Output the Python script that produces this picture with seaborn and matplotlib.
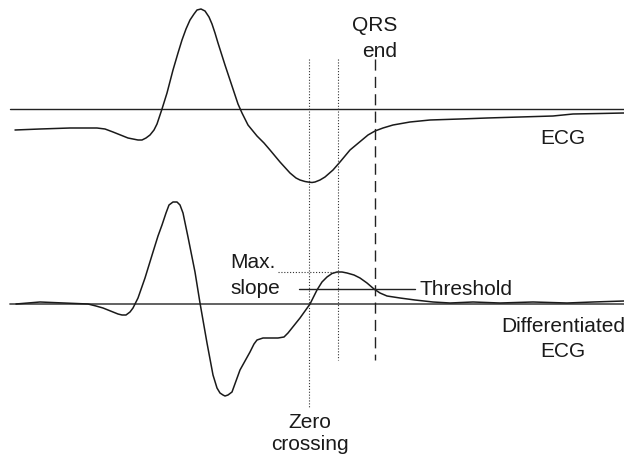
import numpy as np
import pandas as pd
import seaborn as sns
import matplotlib
matplotlib.use("Agg")
import matplotlib.pyplot as plt

# ECG trace: time (sample) and amplitude relative to its baseline
ecg_t = [15, 40, 70, 97, 105, 113, 123, 128, 133, 138, 142, 146, 150, 154, 157,
         162, 167, 173, 178, 182, 186, 190, 194, 197, 201, 205, 209, 212, 215,
         218, 225, 232, 238, 242, 248, 257, 264, 270, 280, 290, 296, 300, 305,
         308, 312, 315, 320, 325, 333, 340, 350, 362, 368, 375, 383, 393, 410,
         430, 460, 487, 520, 553, 573, 600, 624]
ecg_v = [-21, -20, -19, -19, -20, -23, -27, -29, -30, -31, -31, -29, -26, -21, -15,
         0, 16, 39, 56, 69, 80, 89, 95, 99, 100, 98, 92, 85, 76,
         66, 44, 23, 5, -4, -16, -27, -34, -41, -53, -64, -69, -71, -72.5,
         -73, -73.5, -73, -71, -68, -61, -53, -41, -31, -26, -22, -19, -16, -13,
         -11, -10, -9, -8, -7, -5, -4.5, -4]

# differentiated ECG
diff_t = [16, 40, 88, 96, 103, 113, 118, 122, 126, 130, 133, 138, 145, 153, 158,
          162, 166, 169, 173, 177, 180, 183, 188, 195, 200, 207, 213, 217, 220,
          223, 225, 228, 232, 240, 250, 254, 257, 263, 270, 278, 284, 288, 292,
          300, 310, 317, 322, 327, 332, 337, 342, 347, 354, 360, 367, 374, 380,
          387, 400, 415, 433, 450, 473, 500, 533, 567, 593, 624]
diff_v = [0, 2, 0, -2, -4, -8, -10, -11, -11, -8, -4, 6, 26, 52, 68,
          79, 91, 99, 102, 102, 99, 91, 67, 32, 1, -39, -71, -84, -89,
          -91, -92, -91, -88, -66, -48, -40, -36, -34, -34, -34, -33, -29, -24,
          -14, 0, 14, 22, 27, 30.5, 32, 32, 31, 29, 26, 21, 15, 11,
          8, 6, 4, 2, 1, 2, 1, 2, 1, 2, 3]

# markers
zero_cross_t = 309
max_slope_t = 338
qrs_end_t = 375
max_slope_v = 32
threshold_v = 15

ECG_BASE = 348   # vertical placement of the two traces
DIFF_BASE = 153

sns.set_theme(style="white")
plt.rcParams["font.family"] = ["Liberation Sans", "DejaVu Sans"]

fig = plt.figure(figsize=(6.24, 4.57), dpi=100)
ax = fig.add_axes([0, 0, 1, 1])
ax.set_xlim(0, 624)
ax.set_ylim(0, 457)
ax.axis("off")

ecg = pd.DataFrame({"t": ecg_t, "v": np.array(ecg_v) + ECG_BASE})
dif = pd.DataFrame({"t": diff_t, "v": np.array(diff_v) + DIFF_BASE})

# baselines
ax.plot([10, 624], [ECG_BASE, ECG_BASE], color="#222222", lw=1.0)
ax.plot([10, 624], [DIFF_BASE, DIFF_BASE], color="#555555", lw=1.3)

line_kw = dict(color="#1a1a1a", lw=1.1, errorbar=None,
               solid_joinstyle="round", solid_capstyle="round")
sns.lineplot(data=ecg, x="t", y="v", ax=ax, **line_kw)
sns.lineplot(data=dif, x="t", y="v", ax=ax, **line_kw)

# vertical markers
dot = (0, (1, 1.6))
ax.plot([zero_cross_t, zero_cross_t], [398, 50], color="#333333", lw=0.8, ls=dot)
ax.plot([max_slope_t, max_slope_t], [398, 97], color="#333333", lw=0.8, ls=dot)
ax.plot([qrs_end_t, qrs_end_t], [398, 97], color="#222222", lw=1.0, ls=(0, (8, 4.5)))

# horizontal markers
ax.plot([278, max_slope_t], [DIFF_BASE + max_slope_v] * 2, color="#333333", lw=0.8, ls=dot)
ax.plot([299, 415], [DIFF_BASE + threshold_v] * 2, color="#222222", lw=1.0)

fs = 15
kw = dict(fontsize=fs, color="#1a1a1a", va="baseline")
ax.text(397, 426, "QRS", ha="right", **kw)
ax.text(397, 400, "end", ha="right", **kw)
ax.text(540, 313, "ECG", ha="left", **kw)
ax.text(230, 189, "Max.", ha="left", **kw)
ax.text(230, 163, "slope", ha="left", **kw)
ax.text(420, 162, "Threshold", ha="left", **kw)
ax.text(563, 125, "Differentiated", ha="center", **kw)
ax.text(563, 100, "ECG", ha="center", **kw)
ax.text(310, 29, "Zero", ha="center", **kw)
ax.text(310, 7, "crossing", ha="center", **kw)

fig.savefig("out.png", dpi=100)
